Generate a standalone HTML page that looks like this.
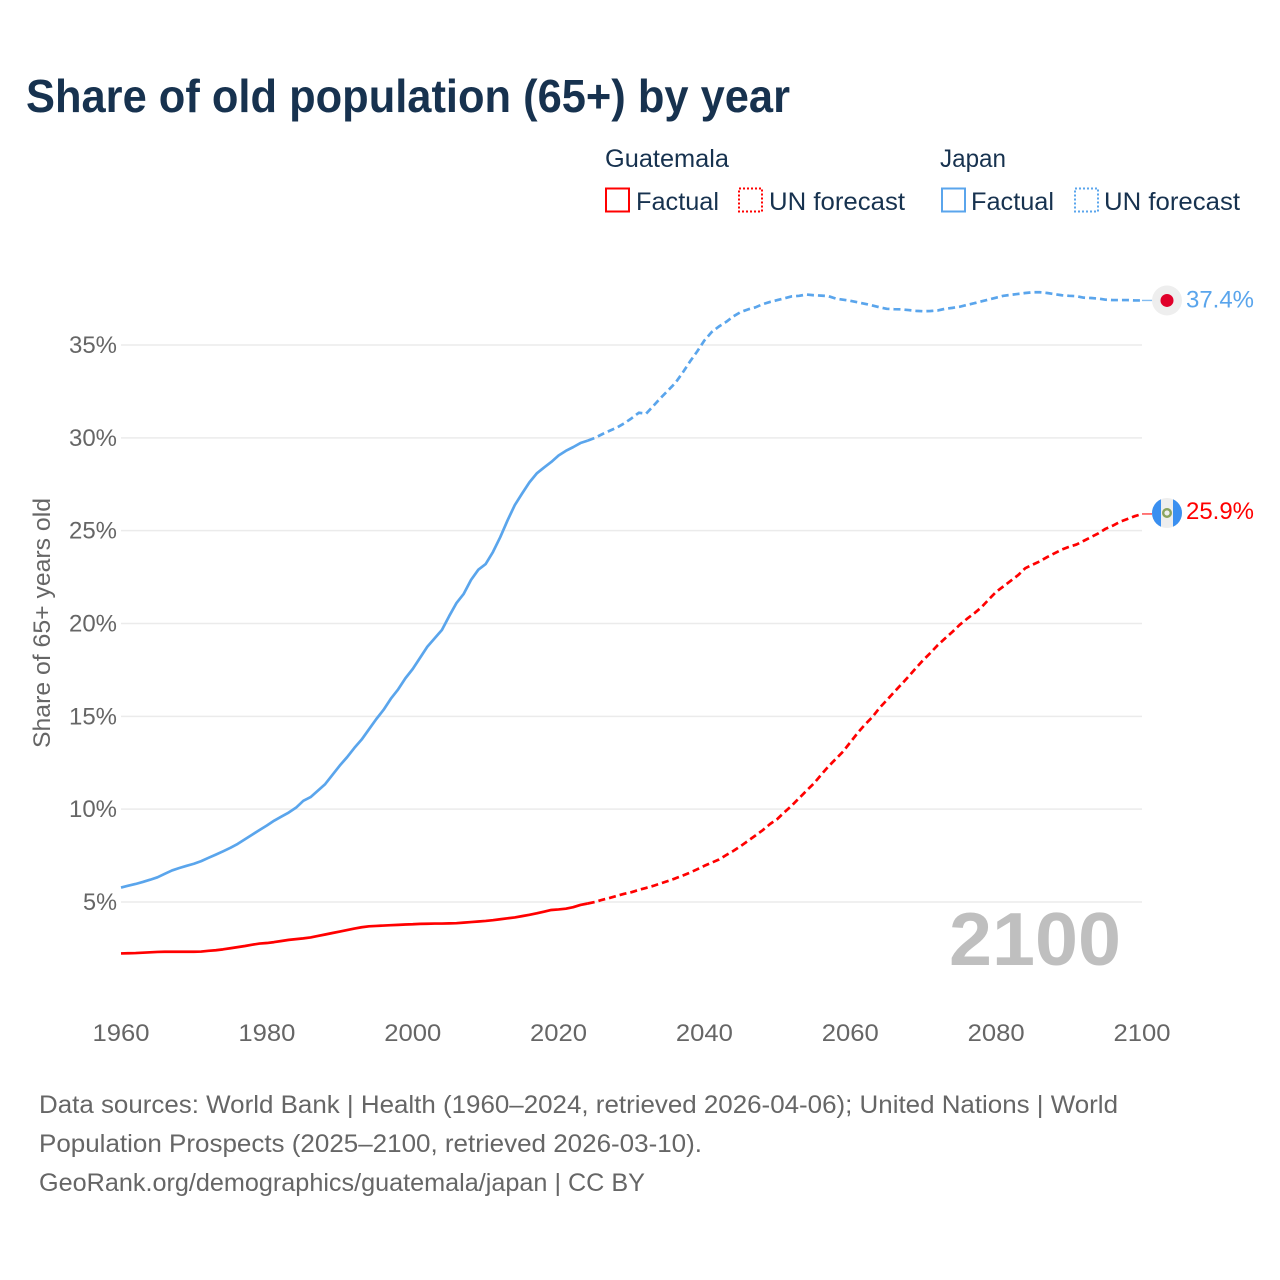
<!DOCTYPE html>
<html lang="en">
<head>
<meta charset="utf-8">
<title>Share of old population (65+) by year</title>
<style>
html,body{margin:0;padding:0;background:#fff;}
svg{display:block;font-family:"Liberation Sans",sans-serif;}
</style>
</head>
<body>
<svg id="chart" width="1280" height="1280" viewBox="0 0 1280 1280" xmlns="http://www.w3.org/2000/svg">
  <rect x="0" y="0" width="1280" height="1280" fill="#ffffff"/>
  <text x="26" y="112" font-size="46" font-weight="700" fill="#17324f" textLength="764" lengthAdjust="spacingAndGlyphs">Share of old population (65+) by year</text>

  <g fill="#17324f" font-size="25">
    <text x="605" y="167" textLength="124" lengthAdjust="spacingAndGlyphs">Guatemala</text>
    <text x="940" y="167" textLength="66" lengthAdjust="spacingAndGlyphs">Japan</text>
    <rect x="606" y="188.5" width="23" height="23" fill="none" stroke="#ff0000" stroke-width="2"/>
    <text x="636" y="210" textLength="83" lengthAdjust="spacingAndGlyphs">Factual</text>
    <rect x="739" y="188.5" width="23" height="23" fill="none" stroke="#ff0000" stroke-width="2" stroke-dasharray="2 2"/>
    <text x="769" y="210" textLength="136" lengthAdjust="spacingAndGlyphs">UN forecast</text>
    <rect x="942" y="188.5" width="23" height="23" fill="none" stroke="#5aa5ec" stroke-width="2"/>
    <text x="971" y="210" textLength="83" lengthAdjust="spacingAndGlyphs">Factual</text>
    <rect x="1075" y="188.5" width="23" height="23" fill="none" stroke="#5aa5ec" stroke-width="2" stroke-dasharray="2 2"/>
    <text x="1104" y="210" textLength="136" lengthAdjust="spacingAndGlyphs">UN forecast</text>
  </g>

  <g id="grid"></g>
  <g id="ytick-labels"></g>
  <g id="xtick-labels"></g>
  <text transform="translate(50 623) rotate(-90)" text-anchor="middle" font-size="24" fill="#666666" textLength="250" lengthAdjust="spacingAndGlyphs">Share of 65+ years old</text>
  <text x="949" y="965" font-size="75" font-weight="700" fill="#bfbfbf" textLength="172" lengthAdjust="spacingAndGlyphs">2100</text>

  <g id="series"></g>

  <g id="flag-japan"></g>
  <g id="flag-guatemala"></g>
  <g id="end-labels"></g>

  <g font-size="25" fill="#666666">
    <text x="39" y="1113" textLength="1079" lengthAdjust="spacingAndGlyphs">Data sources: World Bank | Health (1960–2024, retrieved 2026-04-06); United Nations | World</text>
    <text x="39" y="1152" textLength="663" lengthAdjust="spacingAndGlyphs">Population Prospects (2025–2100, retrieved 2026-03-10).</text>
    <text x="39" y="1191" textLength="606" lengthAdjust="spacingAndGlyphs">GeoRank.org/demographics/guatemala/japan | CC BY</text>
  </g>
</svg>
<script>
const firstYear = 1960;
const lastFactualYear = 2024;
const xTickYears = [1960, 1980, 2000, 2020, 2040, 2060, 2080, 2100];
const yTickValues = [5, 10, 15, 20, 25, 30, 35];
const japanValues = [
5.78,5.88,5.97,6.08,6.2,6.33,6.52,6.7,6.83,6.95,
7.06,7.2,7.38,7.55,7.73,7.92,8.13,8.38,8.63,8.88,
9.12,9.38,9.6,9.82,10.08,10.45,10.65,11.0,11.35,11.85,
12.35,12.8,13.3,13.75,14.3,14.85,15.35,15.95,16.45,17.05,
17.55,18.15,18.75,19.2,19.65,20.4,21.1,21.6,22.35,22.9,
23.2,23.85,24.65,25.55,26.38,27.0,27.6,28.08,28.4,28.7,
29.05,29.3,29.5,29.72,29.85,30.0,30.2,30.38,30.55,30.78,
31.05,31.35,31.3,31.72,32.15,32.55,32.95,33.5,34.1,34.65,
35.25,35.7,36.0,36.25,36.55,36.78,36.92,37.03,37.2,37.32,
37.42,37.52,37.62,37.65,37.72,37.68,37.66,37.63,37.5,37.44,
37.38,37.3,37.22,37.13,37.03,36.95,36.93,36.92,36.88,36.84,
36.82,36.83,36.86,36.95,37.0,37.06,37.16,37.25,37.35,37.45,
37.55,37.65,37.7,37.75,37.8,37.84,37.84,37.8,37.74,37.68,
37.65,37.63,37.55,37.53,37.5,37.44,37.42,37.42,37.42,37.4,
37.4];
const guatemalaValues = [
2.23,2.24,2.25,2.27,2.29,2.31,2.32,2.32,2.32,2.32,
2.32,2.33,2.37,2.4,2.45,2.51,2.57,2.63,2.7,2.76,
2.79,2.84,2.9,2.96,3.0,3.04,3.09,3.17,3.25,3.33,
3.41,3.49,3.57,3.64,3.69,3.71,3.73,3.75,3.77,3.79,
3.8,3.82,3.83,3.84,3.84,3.85,3.86,3.89,3.92,3.95,
3.98,4.02,4.07,4.12,4.17,4.24,4.31,4.39,4.48,4.57,
4.6,4.64,4.72,4.84,4.92,5.0,5.12,5.22,5.33,5.44,
5.53,5.65,5.76,5.87,6.0,6.13,6.27,6.42,6.58,6.76,
6.95,7.12,7.29,7.53,7.76,8.02,8.3,8.58,8.87,9.2,
9.47,9.85,10.2,10.6,11.0,11.38,11.85,12.3,12.7,13.1,
13.6,14.1,14.55,14.95,15.45,15.87,16.3,16.72,17.15,17.6,
18.03,18.42,18.84,19.2,19.55,19.93,20.25,20.55,20.88,21.3,
21.7,22.0,22.3,22.6,22.98,23.17,23.35,23.58,23.78,23.98,
24.13,24.25,24.45,24.65,24.85,25.1,25.27,25.48,25.63,25.78,
25.9];

const NS = 'http://www.w3.org/2000/svg';
const BLUE = '#5aa5ec';
const RED = '#ff0000';
function xScale(year) { return 121 + (year - 1960) * (1021 / 140); }
function yScale(value) { return 902 - (value - 5) * (557 / 30); }
function make(tag, attrs, parent) {
  const el = document.createElementNS(NS, tag);
  for (const k in attrs) el.setAttribute(k, attrs[k]);
  parent.appendChild(el);
  return el;
}
function pathFor(values, fromYear, toYear) {
  let d = '';
  for (let y = fromYear; y <= toYear; y++) {
    d += (d ? 'L' : 'M') + xScale(y).toFixed(2) + ' ' + yScale(values[y - firstYear]).toFixed(2);
  }
  return d;
}

const grid = document.getElementById('grid');
const yLabels = document.getElementById('ytick-labels');
for (const v of yTickValues) {
  const line = make('line', {x1: xScale(1960), x2: xScale(2100), y1: yScale(v), y2: yScale(v), stroke: '#ebebeb', 'stroke-width': 1.5}, grid);
  
  
  const label = make('text', {x: 117, y: yScale(v) + 8, 'text-anchor': 'end', 'font-size': 24, fill: '#666666', textLength: v < 10 ? 34 : 48, lengthAdjust: 'spacingAndGlyphs'}, yLabels);
  label.textContent = v + '%';
  
  
}
const xLabels = document.getElementById('xtick-labels');
for (const yr of xTickYears) {
  const label = make('text', {x: xScale(yr), y: 1041, 'text-anchor': 'middle', 'font-size': 24, fill: '#666666', textLength: 57, lengthAdjust: 'spacingAndGlyphs'}, xLabels);
  label.textContent = yr;
  
  
}

const seriesGroup = document.getElementById('series');
const lastYear = firstYear + japanValues.length - 1;
function drawSeries(values, color, key) {
  const solid = make('path', {d: pathFor(values, firstYear, lastFactualYear), fill: 'none', stroke: color, 'stroke-width': 2.7, 'stroke-linejoin': 'round'}, seriesGroup);
  
  
  const dashed = make('path', {d: pathFor(values, lastFactualYear, lastYear), fill: 'none', stroke: color, 'stroke-width': 2.7, 'stroke-dasharray': '7 4', 'stroke-linejoin': 'round'}, seriesGroup);
  
  
  const endY = yScale(values[values.length - 1]);
  const conn = make('line', {x1: xScale(lastYear), x2: 1152, y1: endY, y2: endY, stroke: color, 'stroke-width': 1.4, 'stroke-opacity': 0.75}, seriesGroup);
  
  
}
drawSeries(japanValues, BLUE, 'japan');
drawSeries(guatemalaValues, RED, 'guatemala');

const jpY = yScale(japanValues[japanValues.length - 1]);
const gtY = yScale(guatemalaValues[guatemalaValues.length - 1]);
const flagJ = document.getElementById('flag-japan');
make('circle', {cx: 1167, cy: jpY, r: 15, fill: '#eeeeee'}, flagJ);
make('circle', {cx: 1167, cy: jpY, r: 6.5, fill: '#e0002a'}, flagJ);

const flagG = document.getElementById('flag-guatemala');
const defs = make('defs', {}, flagG);
const clip = make('clipPath', {id: 'gt-clip'}, defs);
make('circle', {cx: 1167, cy: gtY - 1, r: 15}, clip);
const flagInner = make('g', {'clip-path': 'url(#gt-clip)'}, flagG);
make('rect', {x: 1152, y: gtY - 16, width: 30, height: 30, fill: '#eeeeee'}, flagInner);
make('rect', {x: 1152, y: gtY - 16, width: 9, height: 30, fill: '#3a8ff0'}, flagInner);
make('rect', {x: 1173, y: gtY - 16, width: 9, height: 30, fill: '#3a8ff0'}, flagInner);
make('circle', {cx: 1167, cy: gtY - 1, r: 3.8, fill: 'none', stroke: '#8aa35e', 'stroke-width': 2.4}, flagG);

const endLabels = document.getElementById('end-labels');
const jpLabel = make('text', {x: 1186, y: jpY + 7, 'font-size': 24.5, fill: BLUE, textLength: 68, lengthAdjust: 'spacingAndGlyphs'}, endLabels);
jpLabel.textContent = japanValues[japanValues.length - 1].toFixed(1) + '%';


const gtLabel = make('text', {x: 1186, y: gtY + 5, 'font-size': 24.5, fill: RED, textLength: 68, lengthAdjust: 'spacingAndGlyphs'}, endLabels);
gtLabel.textContent = guatemalaValues[guatemalaValues.length - 1].toFixed(1) + '%';


</script>
</body>
</html>
